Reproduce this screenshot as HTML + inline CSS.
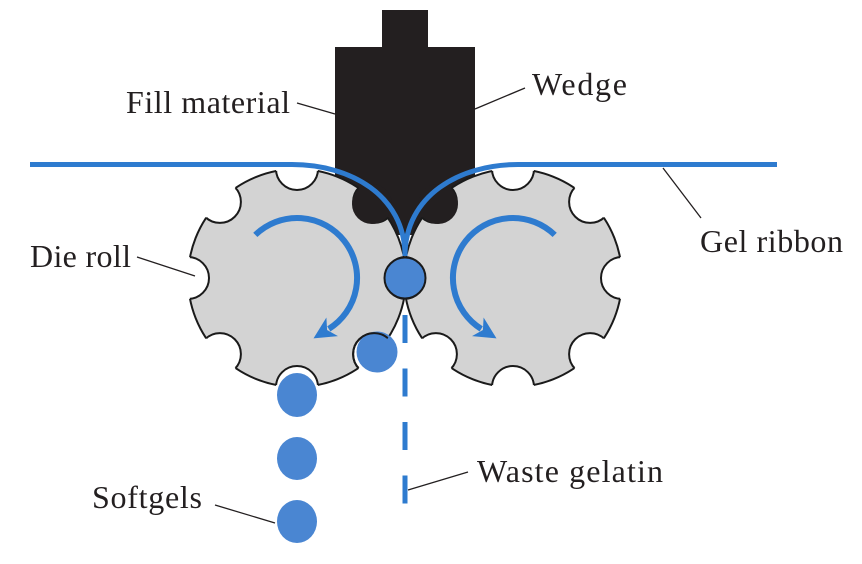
<!DOCTYPE html>
<html>
<head>
<meta charset="utf-8">
<style>
  html,body{margin:0;padding:0;background:#fff;}
  svg{display:block;}
  text{font-family:"Liberation Serif","Times New Roman",serif;font-size:32px;fill:#231f20;}
</style>
</head>
<body>
<svg width="862" height="564" viewBox="0 0 862 564" xmlns="http://www.w3.org/2000/svg">
  <defs>
    <mask id="mL" maskUnits="userSpaceOnUse" x="0" y="0" width="862" height="564">
      <rect x="0" y="0" width="862" height="564" fill="#fff"/>
      <g fill="#000">
        <circle cx="406" cy="278" r="21"/>
        <circle cx="374.1" cy="354.1" r="21"/>
        <circle cx="297" cy="387" r="21"/>
        <circle cx="219.9" cy="354.1" r="21"/>
        <circle cx="188" cy="278" r="21"/>
        <circle cx="219.9" cy="201.9" r="21"/>
        <circle cx="297" cy="169" r="21"/>
        <circle cx="374.1" cy="201.9" r="21"/>
      </g>
    </mask>
    <mask id="mR" maskUnits="userSpaceOnUse" x="0" y="0" width="862" height="564">
      <rect x="0" y="0" width="862" height="564" fill="#fff"/>
      <g fill="#000">
        <circle cx="622" cy="278" r="21"/>
        <circle cx="590.1" cy="354.1" r="21"/>
        <circle cx="513" cy="387" r="21"/>
        <circle cx="435.9" cy="354.1" r="21"/>
        <circle cx="404" cy="278" r="21"/>
        <circle cx="435.9" cy="201.9" r="21"/>
        <circle cx="513" cy="169" r="21"/>
        <circle cx="590.1" cy="201.9" r="21"/>
      </g>
    </mask>
    <clipPath id="cL"><circle cx="297" cy="278" r="109"/></clipPath>
    <clipPath id="cR"><circle cx="513" cy="278" r="109"/></clipPath>
  </defs>

  <!-- Wedge body -->
  <rect x="382" y="10" width="46" height="38" fill="#231f20"/>
  <rect x="335" y="47" width="140" height="188" fill="#231f20"/>

  <!-- Left die roll -->
  <g mask="url(#mL)">
    <circle cx="297" cy="278" r="109" fill="#d3d3d3" stroke="#1a1a1a" stroke-width="2"/>
  </g>
  <g clip-path="url(#cL)" fill="none" stroke="#1a1a1a" stroke-width="2">
    <circle cx="406" cy="278" r="21"/>
    <circle cx="374.1" cy="354.1" r="21"/>
    <circle cx="297" cy="387" r="21"/>
    <circle cx="219.9" cy="354.1" r="21"/>
    <circle cx="188" cy="278" r="21"/>
    <circle cx="219.9" cy="201.9" r="21"/>
    <circle cx="297" cy="169" r="21"/>
    <circle cx="374.1" cy="201.9" r="21"/>
  </g>

  <!-- Right die roll -->
  <g mask="url(#mR)">
    <circle cx="513" cy="278" r="109" fill="#d3d3d3" stroke="#1a1a1a" stroke-width="2"/>
  </g>
  <g clip-path="url(#cR)" fill="none" stroke="#1a1a1a" stroke-width="2">
    <circle cx="622" cy="278" r="21"/>
    <circle cx="590.1" cy="354.1" r="21"/>
    <circle cx="513" cy="387" r="21"/>
    <circle cx="435.9" cy="354.1" r="21"/>
    <circle cx="404" cy="278" r="21"/>
    <circle cx="435.9" cy="201.9" r="21"/>
    <circle cx="513" cy="169" r="21"/>
    <circle cx="590.1" cy="201.9" r="21"/>
  </g>

  <!-- Wedge lobes -->
  <circle cx="372" cy="204" r="20" fill="#231f20"/>
  <circle cx="438" cy="204" r="20" fill="#231f20"/>

  <!-- Gel ribbon -->
  <g fill="none" stroke="#2e7bcf" stroke-width="5">
    <path d="M30 164.5 H292 C350 164.5 405 195 405 256"/>
    <path d="M777 164.5 H518 C460 164.5 405 195 405 256"/>
  </g>

  <!-- Forming capsule -->
  <circle cx="405" cy="278" r="20.5" fill="#4a86d2" stroke="#1a1a1a" stroke-width="2"/>

  <!-- Softgels -->
  <circle cx="377" cy="352" r="20.5" fill="#4a86d2"/>
  <g clip-path="url(#cL)" fill="none" stroke="#1a1a1a" stroke-width="2">
    <circle cx="374.1" cy="354.1" r="21"/>
  </g>
  <ellipse cx="297" cy="395" rx="20" ry="22" fill="#4a86d2"/>
  <ellipse cx="297" cy="458.5" rx="20" ry="21.5" fill="#4a86d2"/>
  <ellipse cx="297" cy="521.5" rx="20" ry="21.5" fill="#4a86d2"/>

  <!-- Waste gelatin dashed -->
  <line x1="405" y1="315" x2="405" y2="504" stroke="#2e7bcf" stroke-width="5" stroke-dasharray="28 25.5"/>

  <!-- Rotation arrows -->
  <g fill="none" stroke="#2e7bcf" stroke-width="6">
    <path d="M255.3 234.9 A60 60 0 1 1 328.8 328.9"/>
    <path d="M554.7 234.9 A60 60 0 1 0 481.2 328.9"/>
  </g>
  <polygon points="313.5,338.4 326.4,317.5 327.1,330.0 338.0,336.1" fill="#2e7bcf"/>
  <polygon points="496.5,338.4 483.6,317.5 482.9,330.0 472.0,336.1" fill="#2e7bcf"/>

  <!-- Leader lines -->
  <g stroke="#231f20" stroke-width="1.3" fill="none">
    <line x1="297" y1="103" x2="335" y2="114"/>
    <line x1="475" y1="109" x2="525" y2="88"/>
    <line x1="663" y1="168" x2="701" y2="218"/>
    <line x1="137" y1="257" x2="195" y2="276"/>
    <line x1="215" y1="505" x2="275" y2="523"/>
    <line x1="408" y1="490" x2="468" y2="472"/>
  </g>

  <!-- Labels -->
  <text x="126" y="113" textLength="164" lengthAdjust="spacing">Fill material</text>
  <text x="532" y="95" textLength="95" lengthAdjust="spacing">Wedge</text>
  <text x="700" y="252" textLength="143" lengthAdjust="spacing">Gel ribbon</text>
  <text x="30" y="267" textLength="101" lengthAdjust="spacing">Die roll</text>
  <text x="92" y="508" textLength="110" lengthAdjust="spacing">Softgels</text>
  <text x="477" y="482" textLength="186" lengthAdjust="spacing">Waste gelatin</text>
</svg>
</body>
</html>
